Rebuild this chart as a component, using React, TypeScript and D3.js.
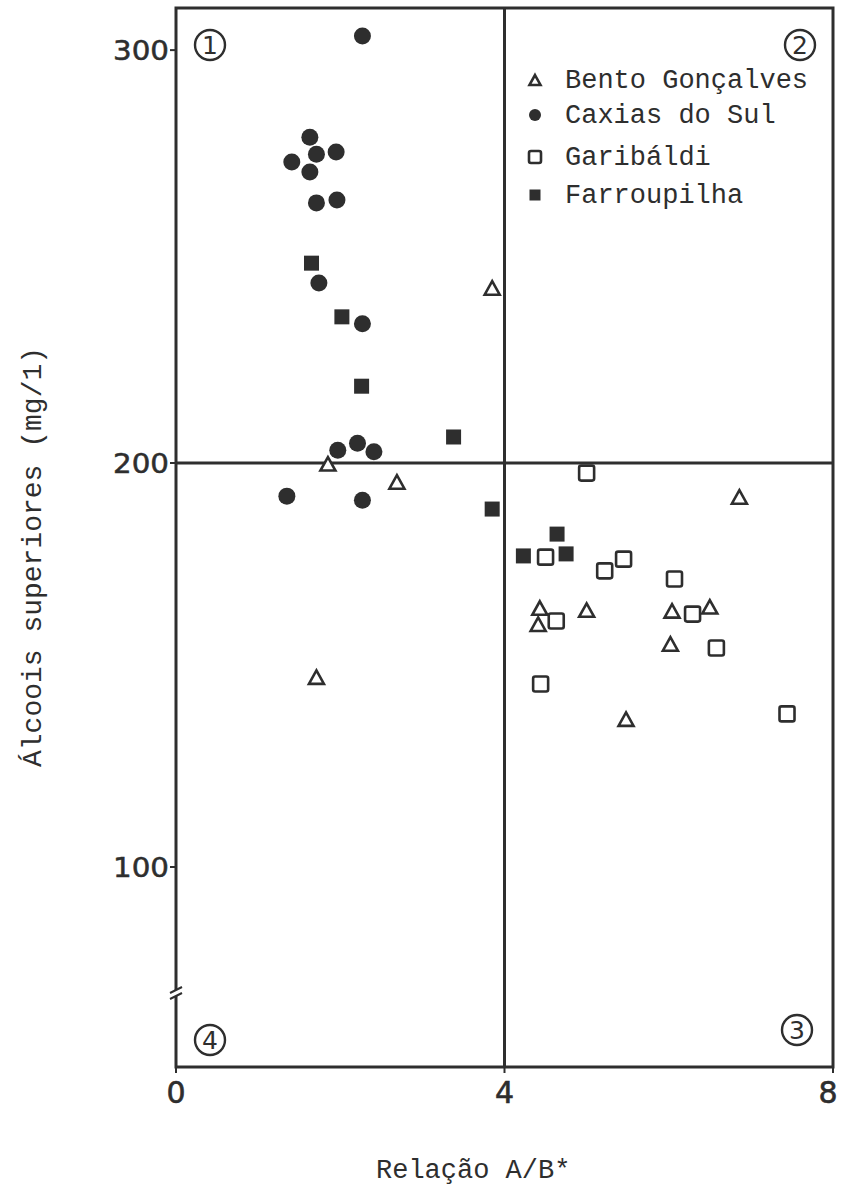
import { useEffect, useRef } from "react";
import * as d3 from "d3";

// Relação A/B* (x) vs álcoois superiores mg/l (y)
const bentoGoncalves = [
  [3.85, 242.4], [1.85, 199.8], [2.69, 195.3], [1.71, 147.0], [6.86, 191.6],
  [4.43, 164.1], [5.0, 163.6], [4.41, 160.1], [6.04, 163.4], [6.5, 164.4],
  [6.02, 155.2], [5.48, 136.6],
];
const caxiasDoSul = [
  [2.27, 303.4], [1.63, 278.9], [1.71, 274.8], [1.95, 275.3], [1.41, 272.9],
  [1.63, 270.5], [1.71, 263.0], [1.96, 263.7], [1.74, 243.6], [2.27, 233.7],
  [1.97, 203.1], [2.21, 204.8], [2.41, 202.7], [1.35, 191.8], [2.27, 190.8],
];
const garibaldi = [
  [5.0, 197.5], [4.5, 176.7], [5.45, 176.2], [5.22, 173.3], [6.07, 171.3],
  [4.63, 160.9], [6.29, 162.6], [6.58, 154.2], [4.44, 145.3], [7.44, 137.9],
];
const farroupilha = [
  [1.65, 248.4], [2.02, 235.4], [2.26, 218.6], [3.38, 206.3], [3.85, 188.6],
  [4.64, 182.4], [4.23, 177.0], [4.75, 177.5],
];

const xTicks = [0, 4, 8];
const yTicks = [100, 200, 300];
const legendLabels = ["Bento Gonçalves", "Caxias do Sul", "Garibáldi", "Farroupilha"];
const quadrantLabels = ["1", "2", "3", "4"];

const INK = "#2e2e2e";
const MONO = "'Liberation Mono', 'DejaVu Sans Mono', monospace";
const SANS = "'DejaVu Sans', 'Liberation Sans', sans-serif";

function drawMarker(g, kind, x, y, size) {
  if (kind === "triangle") {
    const h = size * 0.9;
    g.append("path")
      .attr("d", `M${x},${y - h / 2}L${x + size / 2},${y + h / 2}L${x - size / 2},${y + h / 2}Z`)
      .attr("fill", "white")
      .attr("stroke", INK)
      .attr("stroke-width", 2.6);
  } else if (kind === "circle") {
    g.append("circle").attr("cx", x).attr("cy", y).attr("r", size / 2).attr("fill", INK);
  } else if (kind === "open") {
    g.append("rect")
      .attr("x", x - size / 2).attr("y", y - size / 2)
      .attr("width", size).attr("height", size)
      .attr("rx", 2)
      .attr("fill", "white").attr("stroke", INK).attr("stroke-width", 2.6);
  } else {
    g.append("rect")
      .attr("x", x - size / 2).attr("y", y - size / 2)
      .attr("width", size).attr("height", size)
      .attr("fill", INK);
  }
}

export default function App() {
  const svgRef = useRef(null);

  useEffect(() => {
    const svg = d3.select(svgRef.current);
    svg.selectAll("*").remove();

    const left = 176, right = 833, top = 8, bottom = 1067;

    const x = d3.scaleLinear().domain([0, 8]).range([left, right]);
    // the scanned axis is slightly uneven, so a piecewise scale follows the printed ticks
    const y = d3.scaleLinear().domain([50.5, 100, 200, 310.2]).range([bottom, 867, 463, top]);

    const frame = svg.append("g").attr("stroke", INK).attr("stroke-width", 3).attr("fill", "none");
    frame.append("rect").attr("x", left).attr("y", top).attr("width", right - left).attr("height", bottom - top);
    frame.append("line").attr("x1", x(4)).attr("x2", x(4)).attr("y1", top).attr("y2", bottom);
    frame.append("line").attr("x1", left).attr("x2", right).attr("y1", y(200)).attr("y2", y(200));

    // axis break on the y axis
    const by = 993;
    svg.append("rect").attr("x", left - 4).attr("y", by - 3).attr("width", 8).attr("height", 6).attr("fill", "white");
    [-3, 3].forEach((d) => {
      svg.append("line")
        .attr("x1", left - 6).attr("x2", left + 6)
        .attr("y1", by + d + 3).attr("y2", by + d - 3)
        .attr("stroke", INK).attr("stroke-width", 2);
    });

    // y ticks
    yTicks.forEach((t) => {
      svg.append("line")
        .attr("x1", left - 6).attr("x2", left)
        .attr("y1", y(t)).attr("y2", y(t))
        .attr("stroke", INK).attr("stroke-width", 2);
      svg.append("text")
        .attr("x", left - 63).attr("y", y(t) + 10)
        .attr("textLength", 56)
        .attr("lengthAdjust", "spacingAndGlyphs")
        .attr("font-family", SANS).attr("font-size", 26)
        .attr("fill", INK).attr("stroke", INK).attr("stroke-width", 0.5)
        .text(t);
    });

    // x ticks
    xTicks.forEach((t) => {
      svg.append("line")
        .attr("x1", x(t)).attr("x2", x(t))
        .attr("y1", bottom).attr("y2", bottom + 6)
        .attr("stroke", INK).attr("stroke-width", 2);
      svg.append("text")
        .attr("x", Math.min(x(t), 828)).attr("y", 1103)
        .attr("text-anchor", "middle")
        .attr("font-family", SANS).attr("font-size", 30)
        .attr("fill", INK).attr("stroke", INK).attr("stroke-width", 0.6)
        .text(t);
    });

    // axis titles
    svg.append("text")
      .attr("x", 376).attr("y", 1178)
      .attr("font-family", MONO).attr("font-size", 27)
      .attr("fill", INK)
      .text("Relação A/B*");
    svg.append("text")
      .attr("transform", `translate(41, 557) rotate(-90)`)
      .attr("text-anchor", "middle")
      .attr("font-family", MONO).attr("font-size", 28)
      .attr("fill", INK)
      .text("Álcoois superiores (mg/1)");

    // quadrant numbers
    const quadPos = [[210, 45], [800, 45], [797, 1030], [210, 1040]];
    quadrantLabels.forEach((label, i) => {
      const [cx, cy] = quadPos[i];
      svg.append("circle").attr("cx", cx).attr("cy", cy).attr("r", 15)
        .attr("fill", "white").attr("stroke", INK).attr("stroke-width", 2.4);
      svg.append("text")
        .attr("x", cx).attr("y", cy + 9)
        .attr("text-anchor", "middle")
        .attr("font-family", SANS).attr("font-size", 25)
        .attr("fill", INK)
        .text(label);
    });

    // points
    const series = [
      { data: bentoGoncalves, kind: "triangle", size: 15 },
      { data: caxiasDoSul, kind: "circle", size: 17 },
      { data: garibaldi, kind: "open", size: 15 },
      { data: farroupilha, kind: "filled", size: 15 },
    ];
    const pts = svg.append("g");
    series.forEach((s) => {
      s.data.forEach(([vx, vy]) => drawMarker(pts, s.kind, x(vx), y(vy), s.size));
    });

    // legend
    const legend = svg.append("g");
    const legendY = [78, 113, 155, 193];
    const legendKinds = [["triangle", 11], ["circle", 12], ["open", 12], ["filled", 11]];
    legendLabels.forEach((label, i) => {
      const [kind, size] = legendKinds[i];
      drawMarker(legend, kind, 535, legendY[i] + 2, size);
      legend.append("text")
        .attr("x", 565).attr("y", legendY[i] + 10)
        .attr("font-family", MONO).attr("font-size", 27)
        .attr("fill", INK)
        .text(label);
    });
  }, []);

  return (
    <svg
      ref={svgRef}
      width={843}
      height={1187}
      style={{ position: "absolute", left: 0, top: 0, background: "white" }}
    />
  );
}
